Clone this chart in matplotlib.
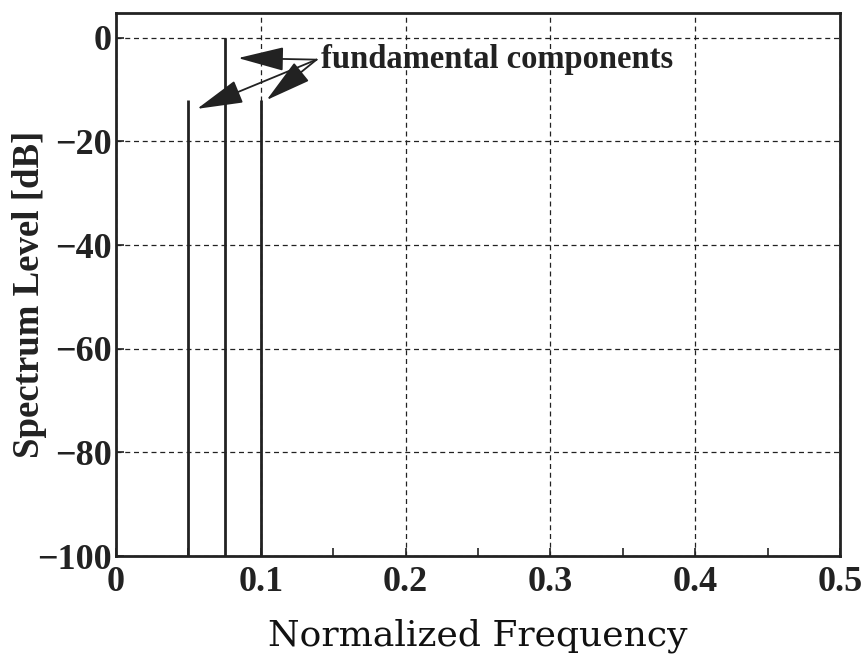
import numpy as np
import matplotlib
matplotlib.use("Agg")
import matplotlib.pyplot as plt
from matplotlib.ticker import MultipleLocator

# Spectral lines: normalized frequency and level in dB
freqs = [0.05, 0.075, 0.1]
levels = [-12, 0, -12]
floor_db = -100

# Annotation text position and arrow targets (data coords)
label_xy = (0.1415, -4.2)
arrow_start = (0.1385, -4.2)
arrow_tips = [(0.0843, -3.9), (0.056, -13.7), (0.104, -12.0)]

xticks = [0, 0.1, 0.2, 0.3, 0.4, 0.5]
xticklabels = ["0", "0.1", "0.2", "0.3", "0.4", "0.5"]
yticks = [0, -20, -40, -60, -80, -100]
yticklabels = ["0", "\u221220", "\u221240", "\u221260", "\u221280", "\u2212100"]

fig = plt.figure(figsize=(8.66, 6.55), dpi=100)
ax = fig.add_axes([116 / 866, 1 - 556 / 655, 724 / 866, 543 / 655])

for f, lv in zip(freqs, levels):
    ax.vlines(f, floor_db, lv, color="#222222", lw=2.0)

ax.set_xlim(0, 0.5)
ax.set_ylim(-100, 4.8)
ax.set_xticks(xticks)
ax.set_xticklabels(xticklabels)
ax.set_yticks(yticks)
ax.set_yticklabels(yticklabels)
ax.xaxis.set_minor_locator(MultipleLocator(0.05))

for lab in ax.get_xticklabels() + ax.get_yticklabels():
    lab.set_fontfamily("Liberation Serif")
    lab.set_fontweight("bold")
    lab.set_fontsize(26)
    lab.set_color("#222222")

ax.tick_params(which="both", direction="in", color="#222222")
ax.tick_params(which="major", length=6, width=1.2)
ax.tick_params(which="minor", length=6, width=1.2)
ax.tick_params(axis="y", pad=3)
ax.tick_params(axis="x", pad=7)

ax.grid(True, which="major", ls=(0, (4, 3)), color="#222222", lw=0.9)
for s in ax.spines.values():
    s.set_linewidth(2.0)
    s.set_color("#222222")

ax.set_ylabel("Spectrum Level [dB]", family="Liberation Serif",
              weight="bold", size=26.5, color="#222222")
ax.yaxis.set_label_coords(-0.095, 0.4825)
ax.set_xlabel("Normalized Frequency", family="DejaVu Serif",
              size=26, labelpad=14, color="#111111")

ax.text(label_xy[0], label_xy[1], "fundamental components",
        family="Liberation Serif", weight="bold", size=23.5,
        va="center", ha="left", color="#222222")
for tip in arrow_tips:
    ax.annotate("", xy=tip, xytext=arrow_start,
                arrowprops=dict(arrowstyle="-|>,head_length=2.9,head_width=0.75",
                                color="#222222", lw=1.3, shrinkA=0, shrinkB=0))

fig.savefig("out.png", dpi=100)
